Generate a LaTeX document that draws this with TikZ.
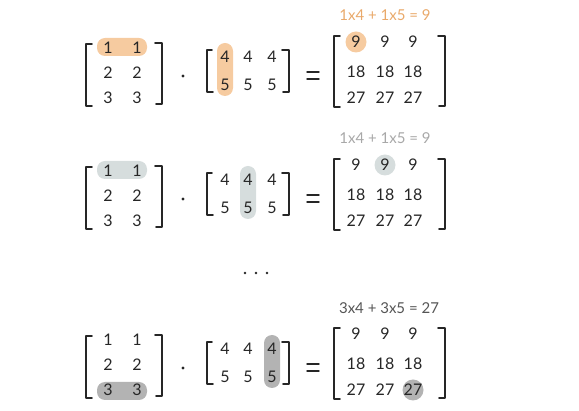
\documentclass[tikz,border=0pt]{standalone}
\usepackage{fontspec}
\setmainfont{Lato}
\begin{document}
\begin{tikzpicture}[x=1pt,y=-1pt,
  ent/.style={font=\fontsize{16}{16}\selectfont, text=black!85, inner sep=0pt},
  ann/.style={font=\fontsize{15}{15}\selectfont, inner sep=0pt},
  brk/.style={line width=1.6pt, draw=black!85, line join=round, line cap=round},
  hlA/.style={fill=orange1},
  hlB/.style={fill=blue1},
  hlC/.style={fill=grey1}]
\definecolor{orange1}{HTML}{F6CBA0}
\definecolor{orangeT}{HTML}{E9A96A}
\definecolor{blue1}{HTML}{D6DDDD}
\definecolor{blueT}{HTML}{A8A8A8}
\definecolor{grey1}{HTML}{B3B3B3}
\definecolor{greyT}{HTML}{555555}
\useasboundingbox (0,0) rectangle (579,411);

% ---------- a generic row macro ----------
\newcommand{\mrow}[9]{%
  % #1 dy, #2 prefix, #3 hl style, #4 which left row (y), #5 mid col x, #6 res x, #7 res y, #8 annotation, #9 text colour
  \begin{scope}[yshift=-#1pt]
    % highlights
    \fill[#3, rounded corners=8pt] (97,#4-9) rectangle (147,#4+9);
    \fill[#3, rounded corners=8pt] (#5-8,43) rectangle (#5+8,96);
    \fill[#3] (#6,#7) circle (10.5);
    % left matrix
    \draw[brk] (92,44) -- (86,44) -- (86,106) -- (92,106);
    \draw[brk] (155,43) -- (162,43) -- (162,104) -- (156,104);
    \node[ent] (#2a11) at (108,48) {1};
    \node[ent] (#2a12) at (137,48) {1};
    \node[ent] (#2a21) at (108,73) {2};
    \node[ent] (#2a22) at (137,73) {2};
    \node[ent] (#2a31) at (108,98) {3};
    \node[ent] (#2a32) at (137,98) {3};
    % dot
    \fill[black!85] (183,76) circle (1.6);
    % middle matrix
    \draw[brk] (212,50) -- (207,50) -- (207,92) -- (213,92);
    \draw[brk] (282,50) -- (289,50) -- (289,92) -- (283,92);
    \node[ent] (#2b11) at (225,57) {4};
    \node[ent] (#2b12) at (248,57) {4};
    \node[ent] (#2b13) at (272,57) {4};
    \node[ent] (#2b21) at (225,85) {5};
    \node[ent] (#2b22) at (248,85) {5};
    \node[ent] (#2b23) at (272,85) {5};
    % equals
    \draw[brk, line width=1.4pt] (307,72) -- (319,72) (307,79) -- (319,79);
    % result matrix
    \draw[brk] (340,36) -- (334,36) -- (334,107) -- (340,107);
    \draw[brk] (438,36) -- (445,36) -- (445,106) -- (439,106);
    \node[ent] (#2c11) at (356,42) {9};
    \node[ent] (#2c12) at (385,42) {9};
    \node[ent] (#2c13) at (413,42) {9};
    \node[ent] (#2c21) at (356,72) {18};
    \node[ent] (#2c22) at (385,72) {18};
    \node[ent] (#2c23) at (413,72) {18};
    \node[ent] (#2c31) at (356,98) {27};
    \node[ent] (#2c32) at (385,98) {27};
    \node[ent] (#2c33) at (413,98) {27};
    \node[ann, text=#9] (#2ann) at (#8) {\annot};
  \end{scope}}

\newcommand{\annot}{1x4 + 1x5 = 9}
\mrow{0}{r1}{hlA}{47}{225}{356}{42}{385,15}{orangeT}
\mrow{123}{r2}{hlB}{47}{248}{385}{42}{385,15}{blueT}
\renewcommand{\annot}{3x4 + 3x5 = 27}
\mrow{292}{r3}{hlC}{99}{272}{413}{98}{389,16}{greyT}

% ellipsis
\fill[black!85] (245,273) circle (1.3) (256,273) circle (1.3) (267,273) circle (1.3);
\end{tikzpicture}
\end{document}
